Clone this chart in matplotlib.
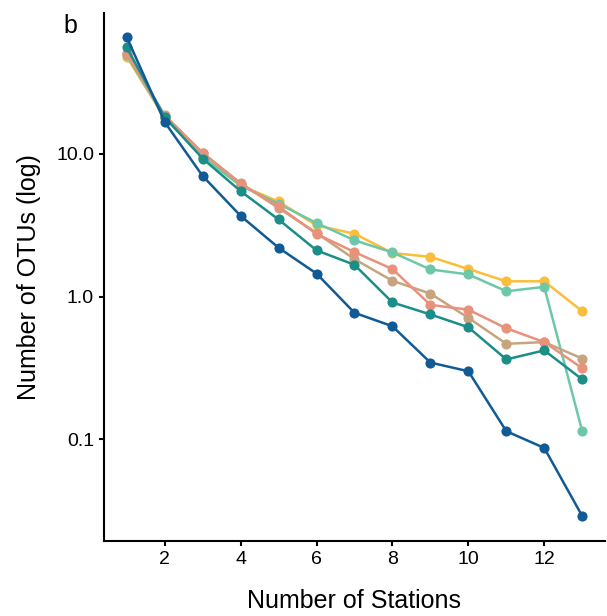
import matplotlib
matplotlib.use("Agg")
import matplotlib.pyplot as plt
from matplotlib.ticker import FixedLocator, FormatStrFormatter, NullLocator

plt.rcParams['font.family'] = ['Liberation Sans', 'DejaVu Sans']

# number of stations on x
stations = list(range(1, 14))

# OTU counts per series
blue = [65.8, 16.7, 7.0, 3.68, 2.2, 1.45, 0.77, 0.62, 0.345, 0.30, 0.114, 0.087, 0.029]
teal = [55.7, 18.1, 9.27, 5.48, 3.47, 2.11, 1.67, 0.91, 0.75, 0.61, 0.363, 0.42, 0.263]
salmon = [51.0, 18.4, 10.2, 6.17, 4.28, 2.75, 2.05, 1.56, 0.875, 0.81, 0.60, 0.48, 0.315]
tan = [50.0, 18.7, 10.1, 6.24, 4.17, 2.79, 1.83, 1.29, 1.05, 0.71, 0.467, 0.48, 0.368]
mint = [49.2, 18.0, 9.5, 6.0, 4.47, 3.28, 2.48, 2.04, 1.55, 1.43, 1.09, 1.17, 0.114]
yellow = [47.9, 17.8, 9.6, 6.0, 4.64, 3.15, 2.76, 2.02, 1.90, 1.56, 1.28, 1.28, 0.79]

series = [
    (yellow, '#fbbd3a'),
    (mint, '#6cc8a8'),
    (tan, '#c7a47d'),
    (salmon, '#e8917b'),
    (teal, '#1b8e87'),
    (blue, '#105a96'),
]

fig = plt.figure(figsize=(6.07, 6.16), dpi=100)
ax = fig.add_axes([0.1713, 0.1218, 0.8254, 0.857])

for vals, col in series:
    ax.plot(stations, vals, color=col, lw=1.8, marker='o', ms=7.3,
            markeredgewidth=0, solid_capstyle='round')

ax.set_yscale('log')
ax.set_xlim(0.4, 13.6)
ax.set_ylim(0.0194, 97)
ax.yaxis.set_major_locator(FixedLocator([0.1, 1.0, 10.0]))
ax.yaxis.set_major_formatter(FormatStrFormatter('%.1f'))
ax.yaxis.set_minor_locator(NullLocator())
ax.set_xticks([2, 4, 6, 8, 10, 12])

for s in ['top', 'right']:
    ax.spines[s].set_visible(False)
for s in ['left', 'bottom']:
    ax.spines[s].set_linewidth(1.5)
ax.tick_params(axis='both', which='major', length=3.6, width=1.5,
               labelsize=14, color='black', labelcolor='black', pad=3.5)

ax.set_xlabel('Number of Stations', fontsize=18, labelpad=15)
ax.set_ylabel('Number of OTUs (log)', fontsize=18, labelpad=11)

fig.text(0.105, 0.958, 'b', fontsize=18, ha='left', va='center')

fig.savefig('out.png', dpi=100)
